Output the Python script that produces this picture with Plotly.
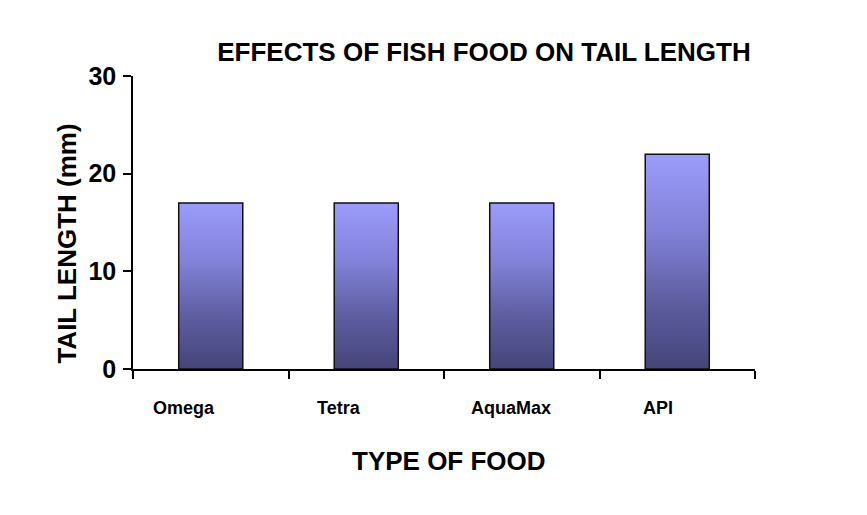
import plotly.graph_objects as go

foods = ["Omega", "Tetra", "AquaMax", "API"]
tail_length = [17, 17, 17, 22]
y_ticks = [0, 10, 20, 30]

FONT = "Arial, Liberation Sans, sans-serif"
half_w = 0.206
label_shift = [-27, -27, -11, -19]

fig = go.Figure()

for i, (name, val) in enumerate(zip(foods, tail_length)):
    fig.add_trace(go.Scatter(
        x=[i - half_w, i - half_w, i + half_w, i + half_w, i - half_w],
        y=[0, val, val, 0, 0],
        mode="lines",
        fill="toself",
        fillgradient=dict(
            type="vertical",
            colorscale=[[0, "#45457a"], [0.3, "#5c5c9e"],
                        [0.65, "#8282d9"], [1, "#9b9bfb"]],
        ),
        line=dict(color="#111111", width=1.5),
        name=name,
        hoverinfo="skip",
    ))

for i, name in enumerate(foods):
    fig.add_annotation(
        x=i, xref="x", y=0, yref="paper",
        text=name, showarrow=False,
        xshift=label_shift[i], yshift=-39, yanchor="middle",
        font=dict(family=FONT, size=18, color="black", weight="bold"),
    )

# axis titles sit off-centre in the original, so place them by hand
fig.add_annotation(
    text="TAIL LENGTH (mm)", textangle=-90, showarrow=False,
    xref="paper", x=0, xshift=-66, xanchor="center",
    yref="paper", y=0.428, yanchor="middle",
    font=dict(family=FONT, size=26, color="black", weight="bold"),
)
fig.add_annotation(
    text="TYPE OF FOOD", showarrow=False,
    xref="paper", x=0.508, xanchor="center",
    yref="paper", y=0, yshift=-92, yanchor="middle",
    font=dict(family=FONT, size=26, color="black", weight="bold"),
)

fig.update_xaxes(
    range=[-0.5, len(foods) - 0.5],
    tickvals=[i - 0.5 for i in range(len(foods) + 1)],
    ticktext=[""] * (len(foods) + 1),
    ticks="outside", ticklen=8, tickwidth=1.5, tickcolor="black",
    showline=True, linecolor="black", linewidth=1.5,
    showgrid=False, zeroline=False,
)

fig.update_yaxes(
    range=[0, 30],
    tickvals=y_ticks,
    ticks="outside", ticklen=8, tickwidth=1.5, tickcolor="black",
    ticklabelstandoff=2,
    tickfont=dict(family=FONT, size=25, color="black", weight="bold"),
    showline=True, linecolor="black", linewidth=1.5,
    showgrid=False, zeroline=False,
)

fig.update_layout(
    width=867, height=515,
    margin=dict(l=125, r=120, t=68, b=154),
    plot_bgcolor="white", paper_bgcolor="white",
    showlegend=False,
    title=dict(
        text="EFFECTS OF FISH FOOD ON TAIL LENGTH",
        x=476 / 867, xref="container", xanchor="center",
        y=1 - 44 / 515, yref="container", yanchor="middle",
        font=dict(family=FONT, size=26, color="black", weight="bold"),
    ),
)

fig.write_html("out.html")
